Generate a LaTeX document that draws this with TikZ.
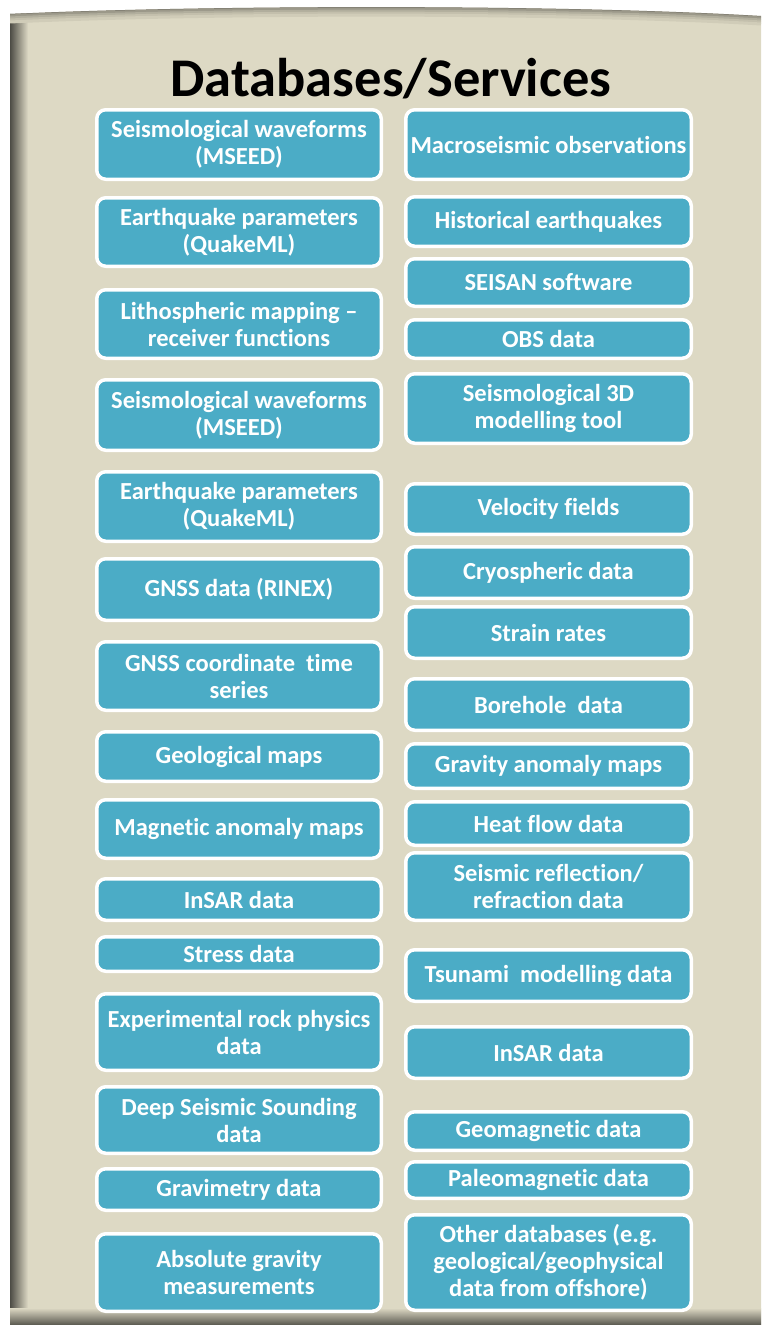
\documentclass[tikz,border=0pt]{standalone}
\usepackage{fontspec}
\setmainfont{Carlito}[Ligatures={TeX,NoCommon}]
\definecolor{panel}{HTML}{DDD9C4}
\definecolor{boxfill}{HTML}{4BACC6}
\tikzset{
  dbox/.style={draw=white, line width=3.5pt, fill=boxfill, rounded corners=9pt,
    text=white, font=\bfseries\fontsize{24.5}{27}\selectfont, align=center, inner sep=0pt},
  lbox/.style={dbox, minimum width=284.5pt},
  rbox/.style={dbox, minimum width=285.5pt},
  titletext/.style={font=\bfseries\fontsize{54.5}{60}\selectfont, text=black, inner sep=0pt, anchor=base},
}
\begin{document}
\begin{tikzpicture}[x=1pt,y=-1pt]
\useasboundingbox (0,0) rectangle (761,1325);
\fill[white] (0,0) rectangle (761,1325);
% panel
\def\panelpath{(10,14) .. controls (200,5) and (560,4) .. (761,16) -- (761,1325) -- (10,1325) -- cycle}
\fill[panel] \panelpath;
\begin{scope}
  \clip \panelpath;
  \shade[left color=panel!35!black, right color=panel] (10,0) rectangle (28,1325);
  \shade[top color=panel, bottom color=panel!40!black] (0,1308) rectangle (761,1325);
  \foreach \d/\c in {0/55,2/70,4/80,6/88,8/94}{
    \draw[line width=3pt, panel!\c!black] (10,14+\d) .. controls (200,5+\d) and (560,4+\d) .. (761,16+\d);
  }
\end{scope}
% title
\node[titletext] (title) at (391,96) {Databases/Services};
% left column
\node[lbox, minimum height=69.5pt] (l1) at (239,144.5) {Seismological waveforms\\(MSEED)};
\node[lbox, minimum height=68.5pt] (l2) at (239,232) {Earthquake parameters\\(QuakeML)};
\node[lbox, minimum height=68.5pt] (l3) at (239,324) {Lithospheric mapping –\\receiver functions};
\node[lbox, minimum height=70.5pt] (l4) at (239,415) {Seismological waveforms\\(MSEED)};
\node[lbox, minimum height=69.5pt] (l5) at (239,506.5) {Earthquake parameters\\(QuakeML)};
\node[lbox, minimum height=61.5pt] (l6) at (239,589.5) {GNSS data (RINEX)};
\node[lbox, minimum height=68.5pt] (l7) at (239,676) {GNSS coordinate\ \ time\\series};
\node[lbox, minimum height=49.5pt] (l8) at (239,756.5) {Geological maps};
\node[lbox, minimum height=58.5pt] (l9) at (239,829) {Magnetic anomaly maps};
\node[lbox, minimum height=41.5pt] (l10) at (239,899.5) {InSAR data};
\node[lbox, minimum height=34.5pt] (l11) at (239,954) {Stress data};
\node[lbox, minimum height=76.5pt] (l12) at (239,1032) {Experimental rock physics\\data};
\node[lbox, minimum height=66.5pt] (l13) at (239,1120) {Deep Seismic Sounding\\data};
\node[lbox, minimum height=41.5pt] (l14) at (239,1189.5) {Gravimetry data};
\node[lbox, minimum height=77.5pt] (l15) at (239,1272.5) {Absolute gravity\\measurements};
% right column
\node[rbox, minimum height=69.5pt] (r1) at (548.5,144.5) {Macroseismic observations};
\node[rbox, minimum height=49.5pt] (r2) at (548.5,221.5) {Historical earthquakes};
\node[rbox, minimum height=47.5pt] (r3) at (548.5,282.5) {SEISAN software};
\node[rbox, minimum height=38.5pt] (r4) at (548.5,339) {OBS data};
\node[rbox, minimum height=69.5pt] (r5) at (548.5,408.5) {Seismological 3D\\modelling tool};
\node[rbox, minimum height=50.5pt] (r6) at (548.5,509) {Velocity fields};
\node[rbox, minimum height=51.5pt] (r7) at (548.5,572.5) {Cryospheric data};
\node[rbox, minimum height=51.5pt] (r8) at (548.5,632.5) {Strain rates};
\node[rbox, minimum height=51.5pt] (r9) at (548.5,704.5) {Borehole\ \ data};
\node[rbox, minimum height=44.5pt] (r10) at (548.5,766) {Gravity anomaly maps};
\node[rbox, minimum height=43.5pt] (r11) at (548.5,823.5) {Heat flow data};
\node[rbox, minimum height=67.5pt] (r12) at (548.5,886.5) {Seismic reflection/\\refraction data};
\node[rbox, minimum height=51.5pt] (r13) at (548.5,975.5) {Tsunami\ \ modelling data};
\node[rbox, minimum height=51.5pt] (r14) at (548.5,1052.5) {InSAR data};
\node[rbox, minimum height=38.5pt] (r15) at (548.5,1131) {Geomagnetic data};
\node[rbox, minimum height=36.5pt] (r16) at (548.5,1180) {Paleomagnetic data};
\node[rbox, minimum height=95.5pt] (r17) at (548.5,1262.5) {Other databases (e.g.\\geological/geophysical\\data from offshore)};
\end{tikzpicture}
\end{document}
